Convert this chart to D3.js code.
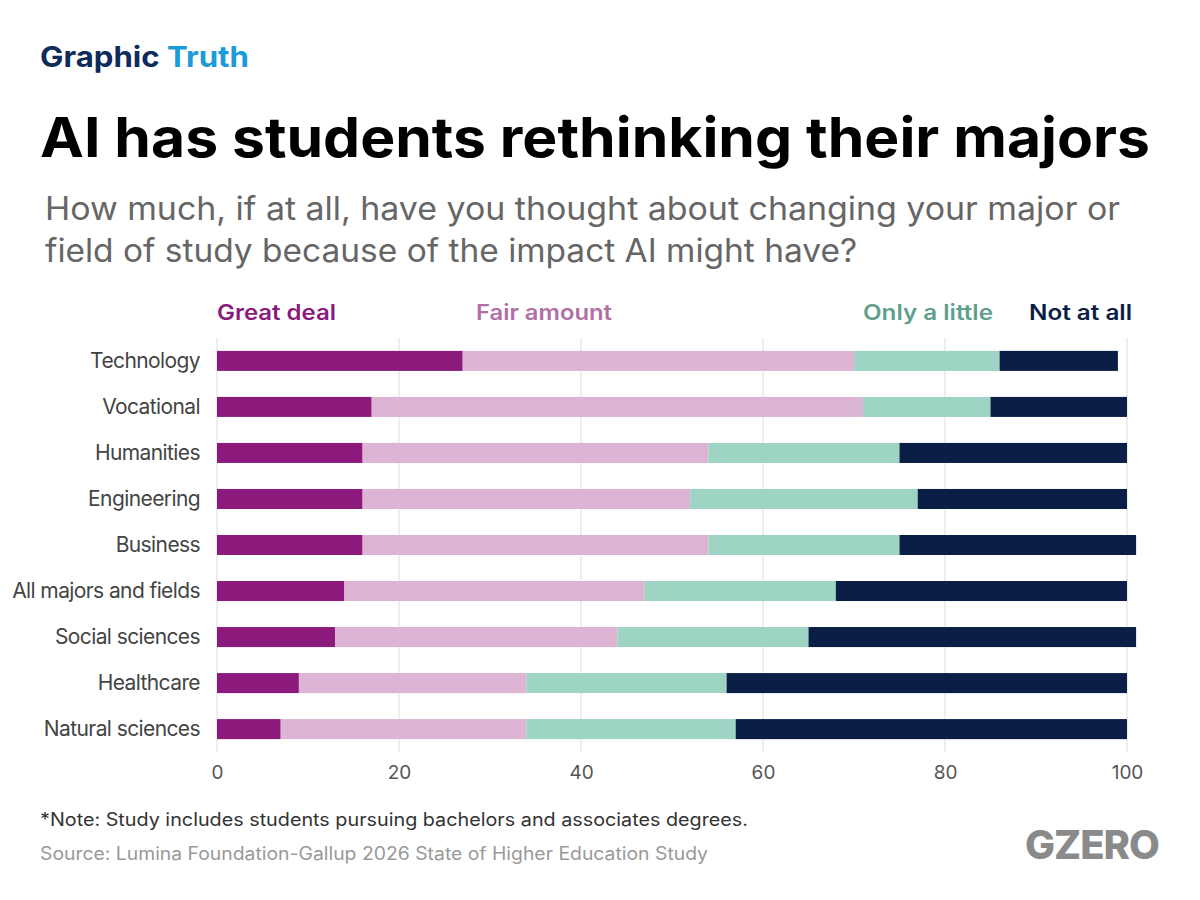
<!DOCTYPE html>
<html><head><meta charset="utf-8">
<script src="https://cdn.jsdelivr.net/npm/d3@7"></script>
<style>body{margin:0;background:#fff;font-family:Inter,"Noto Sans",sans-serif}</style>
</head><body><svg></svg>
<script>
const categories = ["Technology","Vocational","Humanities","Engineering","Business","All majors and fields","Social sciences","Healthcare","Natural sciences"];
const keys = ["Great deal","Fair amount","Only a little","Not at all"];
const greatDeal = [27,17,16,16,16,14,13,9,7];
const fairAmount = [43,54,38,36,38,33,31,25,27];
const onlyLittle = [16,14,21,25,21,21,21,22,23];
const notAtAll = [13,15,25,23,26,32,36,44,43];
const ticks = [0,20,40,60,80,100];

const fills = ["#8c1a7d","#dcb4d4","#9dd4c4","#0b1e45"];
const legendText = ["#8c1a7d","#b070a6","#5f9f8e","#0b1e45"];

const svg = d3.select("svg").attr("width",1200).attr("height",900);

// text helper: stretch to the width seen in the reference
function txt(x, y, size, fill, s, len, weight) {
  const t = svg.append("text").attr("x",x).attr("y",y).attr("font-size",size)
    .attr("fill",fill).attr("font-weight",weight || 400).text(s);
  if (len) t.attr("textLength",len).attr("lengthAdjust","spacingAndGlyphs");
  return t;
}

const gt = svg.append("text").attr("x",40).attr("y",67).attr("font-size",29).attr("font-weight",700)
  .attr("textLength",209).attr("lengthAdjust","spacingAndGlyphs");
gt.append("tspan").attr("fill","#0f2b5b").text("Graphic ");
gt.append("tspan").attr("fill","#1b9bd7").text("Truth");

txt(40,157,55,"#000","AI has students rethinking their majors",1110,700);
txt(45,220,32,"#666","How much, if at all, have you thought about changing your major or",1075);
txt(45,262,32,"#666","field of study because of the impact AI might have?",812);

const x = d3.scaleLinear().domain([0,100]).range([217,1127]);
const y = d3.scaleBand().domain(categories).range([338,752]).paddingInner(0.565).paddingOuter(0.28);

svg.append("g").selectAll("line").data(ticks).join("line")
  .attr("x1",d=>x(d)).attr("x2",d=>x(d)).attr("y1",338).attr("y2",752)
  .attr("stroke","#ddd").attr("stroke-width",1);

const rows = categories.map((c,i)=>({cat:c,"Great deal":greatDeal[i],"Fair amount":fairAmount[i],"Only a little":onlyLittle[i],"Not at all":notAtAll[i]}));
const series = d3.stack().keys(keys)(rows);

svg.append("g").selectAll("g").data(series).join("g")
  .attr("fill",(d,i)=>fills[i])
  .selectAll("rect").data(d=>d).join("rect")
  .attr("x",d=>x(d[0])).attr("width",d=>x(d[1])-x(d[0]))
  .attr("y",d=>y(d.data.cat)).attr("height",y.bandwidth());

svg.append("g").selectAll("text").data(categories).join("text")
  .attr("x",200).attr("y",d=>y(d)+y.bandwidth()/2).attr("dy","0.35em")
  .attr("text-anchor","end").attr("font-size",21).attr("fill","#444").attr("letter-spacing",-0.6).text(d=>d);

svg.append("g").attr("transform","translate(0,752)")
  .call(d3.axisBottom(x).tickValues(ticks).tickSize(0).tickPadding(14))
  .call(g=>g.select(".domain").remove())
  .call(g=>g.selectAll("text").attr("font-size",19).attr("fill","#555").attr("font-family","Inter,sans-serif"));

const legendPos = [[217,119],[476,136],[863,130],[1029,103]];
svg.append("g").selectAll("text").data(keys).join("text")
  .attr("x",(d,i)=>legendPos[i][0]).attr("y",320)
  .attr("textLength",(d,i)=>legendPos[i][1]).attr("lengthAdjust","spacingAndGlyphs")
  .attr("font-size",21).attr("font-weight",600).attr("fill",(d,i)=>legendText[i]).text(d=>d);

txt(40,826,18,"#333","*Note: Study includes students pursuing bachelors and associates degrees.",708);
txt(40,860,18,"#999","Source: Lumina Foundation-Gallup 2026 State of Higher Education Study",668);
svg.append("text").attr("x",1159).attr("y",859).attr("text-anchor","end").attr("font-size",40)
  .attr("font-weight",800).attr("fill","#8a8a8a").attr("letter-spacing",-1).text("GZERO");
</script></body></html>
